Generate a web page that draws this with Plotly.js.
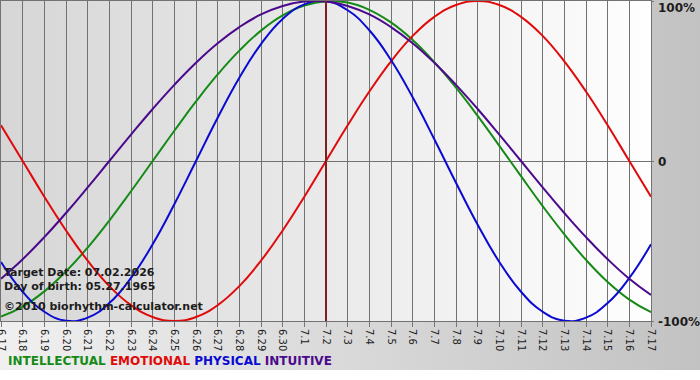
<!DOCTYPE html>
<html>
<head>
<meta charset="utf-8">
<script src="https://cdn.plot.ly/plotly-3.0.1.min.js"></script>
<style>
  html, body { margin: 0; padding: 0; background: #ffffff; }
  #chart {
    width: 700px; height: 380px;
    background:
      linear-gradient(to right, #d6d6d6, #fefefe) 0 0 / 651px 321px no-repeat,
      linear-gradient(#ffffff, #ffffff) 0 370px / 700px 10px no-repeat,
      linear-gradient(to right, #f0f0f0, #c2c2c2);
  }
</style>
</head>
<body>
<div id="chart"></div>
<script>
// Days shown on the chart (month.day)
const days = ["6.17","6.18","6.19","6.20","6.21","6.22","6.23","6.24","6.25","6.26",
  "6.27","6.28","6.29","6.30","7.1","7.2","7.3","7.4","7.5","7.6","7.7","7.8","7.9",
  "7.10","7.11","7.12","7.13","7.14","7.15","7.16","7.17"];

// Cycle levels per day, in percent
const intellectual = [-97.2,-91.0,-81.5,-69.0,-54.1,-37.2,-18.9,0,18.9,37.2,54.1,69.0,81.5,91.0,97.2,99.9,
  99.0,94.5,86.6,75.6,61.8,45.8,28.2,9.5,-9.5,-28.2,-45.8,-61.8,-75.6,-86.6,-94.5];
const emotional    = [22.3,0,-22.3,-43.4,-62.3,-78.2,-90.1,-97.5,-100,-97.5,-90.1,-78.2,-62.3,-43.4,-22.3,0,
  22.3,43.4,62.3,78.2,90.1,97.5,100,97.5,90.1,78.2,62.3,43.4,22.3,0,-22.3];
const physical     = [-63.1,-81.7,-94.2,-99.8,-97.9,-88.8,-73.1,-52.0,-27.0,0,27.0,52.0,73.1,88.8,97.9,99.8,
  94.2,81.7,63.1,39.8,13.6,-13.6,-39.8,-63.1,-81.7,-94.2,-99.8,-97.9,-88.8,-73.1,-52.0];
const intuitive    = [-73.6,-61.4,-47.6,-32.5,-16.5,0,16.5,32.5,47.6,61.4,73.6,83.7,91.6,96.9,99.7,99.7,
  96.9,91.6,83.7,73.6,61.4,47.6,32.5,16.5,0,-16.5,-32.5,-47.6,-61.4,-73.6,-83.7];

const targetDay = "7.2";
const targetDate = "07.02.2026";
const birthDate = "05.27.1965";

const FONT = "DejaVu Sans, Verdana, sans-serif";
const series = [
  {name: "INTELLECTUAL", y: intellectual, color: "#168a16"},
  {name: "EMOTIONAL",    y: emotional,    color: "#e00a0a"},
  {name: "PHYSICAL",     y: physical,     color: "#0a0ad2"},
  {name: "INTUITIVE",    y: intuitive,    color: "#4b0a8c"}
];

const xIdx = days.map((d, i) => i);
const targetIdx = days.indexOf(targetDay);

const traces = series.map(s => ({
  type: "scatter", mode: "lines", x: xIdx, y: s.y, name: s.name,
  line: {color: s.color, width: 2, shape: "spline", smoothing: 1.3},
  hoverinfo: "skip"
}));

const textBold = {family: FONT, size: 11, color: "#1c1c1c", weight: "bold"};

const legendText = series.map(s =>
  '<span style="color:' + s.color + '">' + s.name + '</span>').join(" ");

const annotations = [
  {xref: "paper", yref: "paper", x: 0, y: 0.153, xanchor: "left", yanchor: "middle",
   xshift: 1, text: "Target Date: " + targetDate, showarrow: false, font: textBold},
  {xref: "paper", yref: "paper", x: 0, y: 0.109, xanchor: "left", yanchor: "middle",
   xshift: 1, text: "Day of birth: " + birthDate, showarrow: false, font: textBold},
  {xref: "paper", yref: "paper", x: 0, y: 0.044, xanchor: "left", yanchor: "middle",
   xshift: 1, text: "\u00a92010 biorhythm-calculator.net", showarrow: false, font: textBold},
  {xref: "paper", yref: "paper", x: 0, y: -0.125, xanchor: "left", yanchor: "middle",
   xshift: 5, text: legendText, showarrow: false,
   font: {family: FONT, size: 12, weight: "bold"}},
  {xref: "paper", yref: "y", x: 1, y: 100, xanchor: "left", yanchor: "middle",
   xshift: 5, yshift: -7, text: "100%", showarrow: false, font: Object.assign({}, textBold, {size: 12})},
  {xref: "paper", yref: "y", x: 1, y: 0, xanchor: "left", yanchor: "middle",
   xshift: 5, yshift: -1, text: "0", showarrow: false, font: Object.assign({}, textBold, {size: 12})},
  {xref: "paper", yref: "y", x: 1, y: -100, xanchor: "left", yanchor: "middle",
   xshift: 5, yshift: -1, text: "-100%", showarrow: false, font: Object.assign({}, textBold, {size: 12})}
];

const layout = {
  width: 700, height: 380,
  margin: {l: 1, r: 49, t: 1, b: 59, pad: 0},
  paper_bgcolor: "rgba(0,0,0,0)",
  plot_bgcolor: "rgba(0,0,0,0)",
  showlegend: false,
  font: {family: FONT, size: 10, color: "#222"},
  xaxis: {
    range: [0, days.length - 1],
    tickvals: xIdx, ticktext: days, tickangle: 90,
    ticklabeloverflow: "allow",
    ticks: "outside", ticklen: 5, tickcolor: "#777777", tickwidth: 1,
    tickfont: {family: FONT, size: 10, color: "#222"},
    showgrid: true, gridcolor: "#727272", gridwidth: 1,
    showline: true, linecolor: "#727272", linewidth: 1, mirror: true,
    zeroline: false, fixedrange: true
  },
  yaxis: {
    range: [-100, 100], tickvals: [-100, 0, 100], showticklabels: false,
    side: "right", ticks: "outside", ticklen: 2, tickcolor: "#777777",
    showgrid: true, gridcolor: "#727272", gridwidth: 1,
    showline: true, linecolor: "#727272", linewidth: 1, mirror: true,
    zeroline: false, fixedrange: true
  },
  shapes: [{
    type: "line", xref: "x", yref: "paper", x0: targetIdx, x1: targetIdx, y0: 0, y1: 1,
    line: {color: "#7e1f1f", width: 2}, layer: "above"
  }],
  annotations: annotations
};

Plotly.newPlot("chart", traces, layout, {displayModeBar: false, staticPlot: true});
</script>
</body>
</html>
